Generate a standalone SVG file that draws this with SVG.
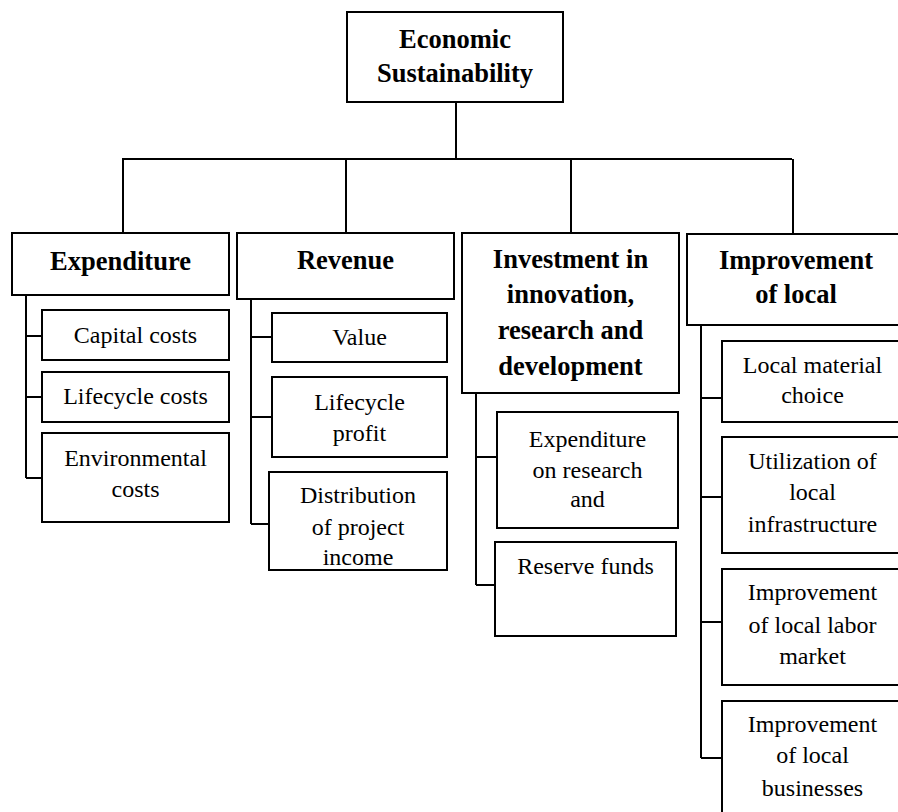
<svg xmlns="http://www.w3.org/2000/svg" width="898" height="812" viewBox="0 0 898 812">
<style>
.box{fill:#fff;stroke:#000;stroke-width:2}
.ln{fill:none;stroke:#000;stroke-width:2}
.h{font-family:"Liberation Serif","Times New Roman",serif;font-weight:bold;font-size:26.5px;text-anchor:middle;fill:#000}
.t{font-family:"Liberation Serif","Times New Roman",serif;font-size:24px;text-anchor:middle;fill:#000}
</style>
<rect width="898" height="812" fill="#fff"/>
<g id="connectors" class="ln">
<path d="M456 102V159M122 159H792M123 159V233M346 159V233M571 159V233M793 159V234"/>
<path d="M26 295V478M26 336H42M26 397H42M26 478H42"/>
<path d="M251 299V524M251 337H272M251 417H272M251 524H269"/>
<path d="M476 393V585M476 457H497M476 585H495"/>
<path d="M701 325V758M701 398H722M701 497H722M701 622H722M701 758H722"/>
</g>
<g id="root"><rect class="box" x="347" y="12" width="216" height="90"/><text class="h" x="455" y="48">Economic</text><text class="h" x="455" y="82">Sustainability</text></g>
<g id="expenditure"><rect class="box" x="12" y="233" width="217" height="62"/><text class="h" x="120.5" y="270">Expenditure</text></g>
<g id="capital"><rect class="box" x="42" y="310" width="187" height="50"/><text class="t" x="135.5" y="343">Capital costs</text></g>
<g id="lifecycle-costs"><rect class="box" x="42" y="372" width="187" height="50"/><text class="t" x="135.5" y="404">Lifecycle costs</text></g>
<g id="environmental"><rect class="box" x="42" y="433" width="187" height="89"/><text class="t" x="135.5" y="466">Environmental</text><text class="t" x="135.5" y="497">costs</text></g>
<g id="revenue"><rect class="box" x="237" y="233" width="217" height="66"/><text class="h" x="345.5" y="269">Revenue</text></g>
<g id="value"><rect class="box" x="272" y="313" width="175" height="49"/><text class="t" x="359.5" y="345">Value</text></g>
<g id="lifecycle-profit"><rect class="box" x="272" y="377" width="175" height="80"/><text class="t" x="359.5" y="410">Lifecycle</text><text class="t" x="359.5" y="441">profit</text></g>
<g id="distribution"><rect class="box" x="269" y="472" width="178" height="98"/><text class="t" x="358" y="503">Distribution</text><text class="t" x="358" y="535">of project</text><text class="t" x="358" y="565">income</text></g>
<g id="investment"><rect class="box" x="462" y="233" width="217" height="160"/><text class="h" x="570.5" y="268">Investment in</text><text class="h" x="570.5" y="303">innovation,</text><text class="h" x="570.5" y="339">research and</text><text class="h" x="570.5" y="375">development</text></g>
<g id="expenditure-research"><rect class="box" x="497" y="412" width="181" height="116"/><text class="t" x="587.5" y="447">Expenditure</text><text class="t" x="587.5" y="478">on research</text><text class="t" x="587.5" y="507">and</text></g>
<g id="reserve"><rect class="box" x="495" y="542" width="181" height="94"/><text class="t" x="585.5" y="574">Reserve funds</text></g>
<g id="improvement"><rect class="box" x="687" y="234" width="218" height="91"/><text class="h" x="796" y="269">Improvement</text><text class="h" x="796" y="303">of local</text></g>
<g id="local-material"><rect class="box" x="722" y="341" width="182" height="81"/><text class="t" x="812.5" y="373">Local material</text><text class="t" x="812.5" y="403">choice</text></g>
<g id="utilization"><rect class="box" x="722" y="437" width="182" height="116"/><text class="t" x="812.5" y="469">Utilization of</text><text class="t" x="812.5" y="500">local</text><text class="t" x="812.5" y="532">infrastructure</text></g>
<g id="labor"><rect class="box" x="722" y="569" width="182" height="116"/><text class="t" x="812.5" y="600">Improvement</text><text class="t" x="812.5" y="633">of local labor</text><text class="t" x="812.5" y="664">market</text></g>
<g id="businesses"><rect class="box" x="722" y="701" width="182" height="120"/><text class="t" x="812.5" y="732">Improvement</text><text class="t" x="812.5" y="763">of local</text><text class="t" x="812.5" y="796">businesses</text></g>
</svg>
